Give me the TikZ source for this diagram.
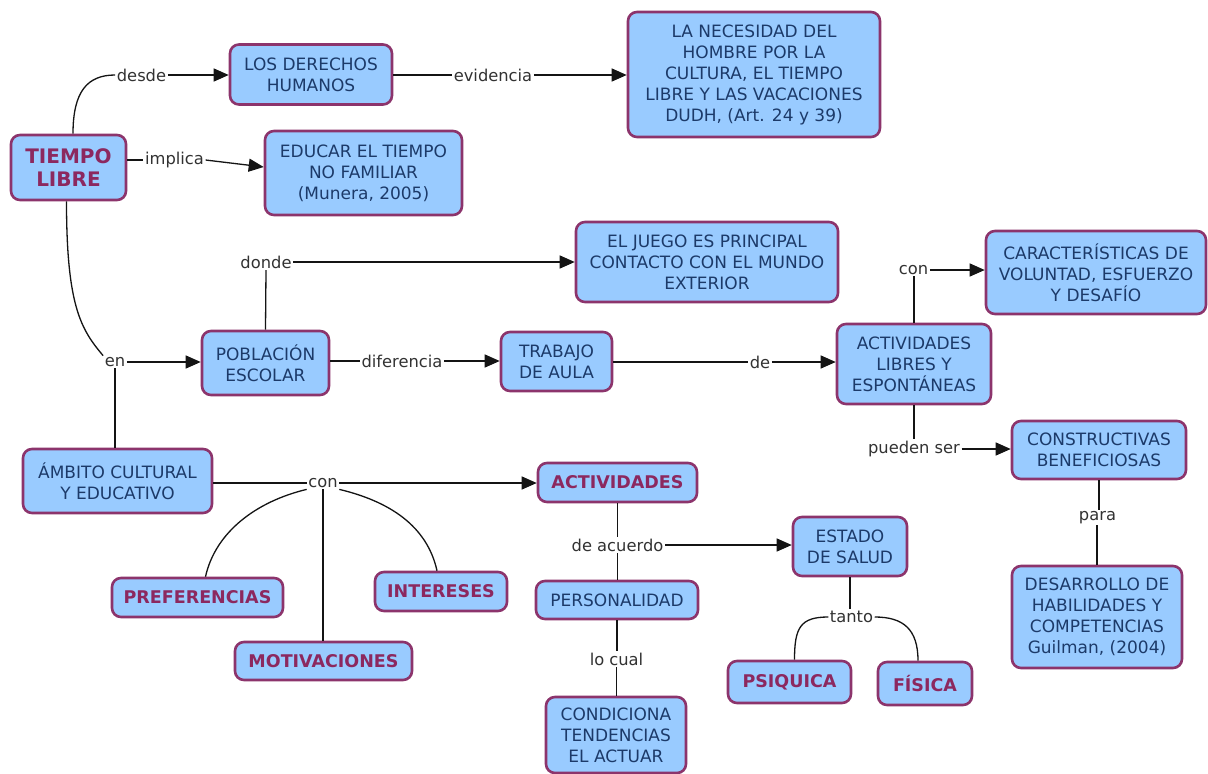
\documentclass[tikz,border=0pt]{standalone}
\usepackage{fontspec}
\setmainfont{DejaVu Sans}
\usetikzlibrary{arrows.meta}
\definecolor{boxfill}{RGB}{153,203,255}
\definecolor{boxborder}{RGB}{140,52,108}
\definecolor{boxtext}{RGB}{28,58,105}
\definecolor{boldtext}{RGB}{140,40,95}
\definecolor{labeltext}{RGB}{50,50,50}
\definecolor{linecol}{RGB}{20,20,20}
\tikzset{
  box/.style={draw=boxborder, fill=boxfill, rounded corners=9pt, line width=2.6pt,
    align=center, inner sep=2pt, text=boxtext, font=\fontsize{17}{21}\selectfont},
  boldbox/.style={box, text=boldtext, font=\fontsize{17.5}{21}\selectfont\bfseries},
  lbl/.style={text=labeltext, font=\fontsize{16.3}{19}\selectfont, inner sep=1.5pt},
  conn/.style={draw=linecol, line width=1.3pt},
  arr/.style={conn, -{Triangle[length=15pt,width=13pt]}}
}
\begin{document}
\begin{tikzpicture}[x=1pt,y=-1pt]
\useasboundingbox[fill=white] (0,0) rectangle (1208,774);
% boxes
\node[boldbox, font=\fontsize{20}{23}\selectfont\bfseries, minimum width=115pt, minimum height=65pt] (tiempo) at (68.5,167.5) {TIEMPO\\LIBRE};
\node[box, minimum width=162pt, minimum height=60pt] (derechos) at (311,74.5) {LOS DERECHOS\\HUMANOS};
\node[box, minimum width=197pt, minimum height=84pt] (educar) at (363.5,173) {EDUCAR EL TIEMPO\\NO FAMILIAR\\(Munera, 2005)};
\node[box, minimum width=252pt, minimum height=125pt] (necesidad) at (754,74.5) {LA NECESIDAD DEL\\HOMBRE POR LA\\CULTURA, EL TIEMPO\\LIBRE Y LAS VACACIONES\\DUDH, (Art. 24 y 39)};
\node[box, minimum width=262pt, minimum height=80pt] (juego) at (707,262) {EL JUEGO ES PRINCIPAL\\CONTACTO CON EL MUNDO\\EXTERIOR};
\node[box, minimum width=220pt, minimum height=83pt] (caract) at (1096,272.5) {CARACTERÍSTICAS DE\\VOLUNTAD, ESFUERZO\\Y DESAFÍO};
\node[box, minimum width=127pt, minimum height=64pt] (poblacion) at (265.5,363) {POBLACIÓN\\ESCOLAR};
\node[box, minimum width=111pt, minimum height=59pt] (trabajo) at (556.5,361.5) {TRABAJO\\DE AULA};
\node[box, minimum width=154pt, minimum height=80pt] (actlibres) at (914,364) {ACTIVIDADES\\LIBRES Y\\ESPONTÁNEAS};
\node[box, minimum width=189pt, minimum height=64pt] (ambito) at (117.5,481) {ÁMBITO CULTURAL\\Y EDUCATIVO};
\node[boldbox, minimum width=159pt, minimum height=39pt] (actividades) at (617.5,482.5) {ACTIVIDADES};
\node[box, minimum width=114pt, minimum height=59pt] (estado) at (850,546.5) {ESTADO\\DE SALUD};
\node[box, minimum width=162pt, minimum height=38pt] (personalidad) at (617,600) {PERSONALIDAD};
\node[box, minimum width=140pt, minimum height=76pt] (condiciona) at (616,735) {CONDICIONA\\TENDENCIAS\\EL ACTUAR};
\node[boldbox, minimum width=123pt, minimum height=42pt] (psiquica) at (789.5,682) {PSIQUICA};
\node[boldbox, minimum width=94pt, minimum height=43pt] (fisica) at (925,683.5) {FÍSICA};
\node[box, minimum width=174pt, minimum height=58pt] (constructivas) at (1099,450) {CONSTRUCTIVAS\\BENEFICIOSAS};
\node[box, minimum width=170pt, minimum height=102pt] (desarrollo) at (1097,617) {DESARROLLO DE\\HABILIDADES Y\\COMPETENCIAS\\Guilman, (2004)};
\node[boldbox, minimum width=171pt, minimum height=39pt] (preferencias) at (197.5,597.5) {PREFERENCIAS};
\node[boldbox, minimum width=177pt, minimum height=38pt] (motivaciones) at (323.5,661) {MOTIVACIONES};
\node[boldbox, minimum width=132pt, minimum height=39pt] (intereses) at (441,591.5) {INTERESES};
% labels
\node[lbl] (desde) at (141.5,75) {desde};
\node[lbl] (evidencia) at (493,75) {evidencia};
\node[lbl] (implica) at (174.5,160) {implica};
\node[lbl] (en) at (115,362) {en};
\node[lbl] (donde) at (266,262) {donde};
\node[lbl] (diferencia) at (402,361) {diferencia};
\node[lbl] (de) at (760,362) {de};
\node[lbl] (conA) at (913.5,270) {con};
\node[lbl] (pueden) at (914,449) {pueden ser};
\node[lbl] (para) at (1097.5,518) {para};
\node[lbl] (conB) at (323,483) {con};
\node[lbl] (deacuerdo) at (617.5,545) {de acuerdo};
\node[lbl] (locual) at (616.5,659) {lo cual};
\node[lbl] (tanto) at (851.5,617) {tanto};
% connectors
\draw[conn] ([xshift=4.5pt]tiempo.north) .. controls +(0,-42) and +(-28,0) .. (desde.west);
\draw[arr] (desde.east) -- (desde.east -| derechos.west);
\draw[conn] (derechos.east |- evidencia.west) -- (evidencia.west);
\draw[arr] (evidencia.east) -- (evidencia.east -| necesidad.west);
\draw[conn] (tiempo.east |- implica.west) -- (implica.west);
\draw[arr] (implica.east) -- ([yshift=6pt]educar.west);
\draw[conn] ([xshift=-2pt]tiempo.south) .. controls +(0,105) and +(-22,-26) .. (en.north west);
\draw[arr] (en.east) -- (en.east -| poblacion.west);
\draw[conn] (en.south) -- (en.south |- ambito.north);
\draw[conn] (poblacion.north) -- (donde.south);
\draw[arr] (donde.east) -- (donde.east -| juego.west);
\draw[conn] (poblacion.east |- diferencia.west) -- (diferencia.west);
\draw[arr] (diferencia.east) -- (diferencia.east -| trabajo.west);
\draw[conn] (trabajo.east |- de.west) -- (de.west);
\draw[arr] (de.east) -- (de.east -| actlibres.west);
\draw[conn] (actlibres.north) -- (actlibres.north |- conA.south);
\draw[arr] (conA.east) -- (conA.east -| caract.west);
\draw[conn] (actlibres.south) -- (actlibres.south |- pueden.north);
\draw[arr] (pueden.east) -- (pueden.east -| constructivas.west);
\draw[conn] (constructivas.south) -- (constructivas.south |- para.north);
\draw[conn] (para.south) -- (para.south -| desarrollo.north) -- (desarrollo.north);
\draw[conn] (ambito.east |- conB.west) -- (conB.west);
\draw[arr] (conB.east) -- (conB.east -| actividades.west);
\draw[conn] (conB.south west) .. controls +(-50,12) and +(10,-45) .. ([xshift=8pt]preferencias.north);
\draw[conn] (conB.south) -- (conB.south |- motivaciones.north);
\draw[conn] (conB.south east) .. controls +(50,12) and +(-10,-45) .. ([xshift=-4pt]intereses.north);
\draw[conn] (actividades.south) -- (actividades.south |- deacuerdo.north);
\draw[conn] (deacuerdo.south) -- (deacuerdo.south |- personalidad.north);
\draw[arr] (deacuerdo.east) -- (deacuerdo.east -| estado.west);
\draw[conn] (personalidad.south) -- (personalidad.south |- locual.north);
\draw[conn] (locual.south) -- (locual.south |- condiciona.north);
\draw[conn] (estado.south) -- (estado.south |- tanto.north);
\draw[conn] (tanto.west) .. controls +(-28,0) and +(0,-32) .. ([xshift=5pt]psiquica.north);
\draw[conn] (tanto.east) .. controls +(28,0) and +(0,-32) .. ([xshift=-7pt]fisica.north);
\end{tikzpicture}
\end{document}
